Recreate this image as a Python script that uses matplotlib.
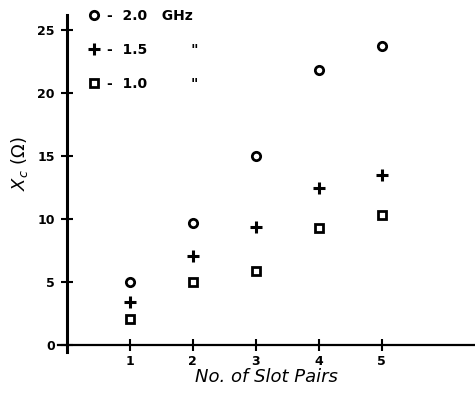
import matplotlib.pyplot as plt

# number of slot pairs
slot_pairs = [1, 2, 3, 4, 5]

# reactance, one list per frequency
x_2_0ghz = [5.0, 9.7, 15.0, 21.8, 23.7]
x_1_5ghz = [3.4, 7.1, 9.4, 12.5, 13.5]
x_1_0ghz = [2.1, 5.0, 5.9, 9.3, 10.3]

y_ticks = [0, 5, 10, 15, 20, 25]

fig = plt.figure(figsize=(4.75, 3.95), dpi=100)
ax = fig.add_axes([0.122, 0.109, 0.878, 0.853])

ax.plot(slot_pairs, x_2_0ghz, 'o', ms=6, mfc='white', mec='black', mew=2,
        label='-  2.0   GHz')
ax.plot(slot_pairs, x_1_5ghz, '+', ms=9, mec='black', mew=2.2,
        label='-  1.5         "')
ax.plot(slot_pairs, x_1_0ghz, 's', ms=5.5, mfc='white', mec='black', mew=2,
        label='-  1.0         "')

ax.set_xlim(-0.14, 6.48)
ax.set_ylim(-0.55, 26.2)

# axes drawn through the origin, like the hand-drawn original
for side in ['top', 'right']:
    ax.spines[side].set_visible(False)
ax.spines['left'].set_position(('data', 0))
ax.spines['bottom'].set_position(('data', 0))
ax.spines['left'].set_linewidth(2.2)
ax.spines['bottom'].set_linewidth(1.6)
ax.spines['left'].set_bounds(-0.55, 26.2)
ax.spines['bottom'].set_bounds(-0.14, 6.48)

ax.set_xticks(slot_pairs)
ax.set_yticks(y_ticks)
ax.tick_params(direction='inout', length=9, width=1.5, labelsize=9)
for lab in ax.get_xticklabels() + ax.get_yticklabels():
    lab.set_fontweight('bold')
ax.tick_params(axis='x', pad=3)
ax.tick_params(axis='y', pad=4)

ax.set_xlabel('No. of Slot Pairs', fontsize=13, style='italic', labelpad=0)
ax.set_ylabel(r'$X_c$ ($\Omega$)', fontsize=13)
ax.yaxis.set_label_coords(-0.066, 0.56)

ax.legend(loc='upper left', bbox_to_anchor=(0.04, 1.055), frameon=False,
          labelspacing=1.45, handlelength=1.0, handletextpad=0.4,
          prop={'weight': 'bold', 'size': 10})

fig.savefig('out.png', dpi=100)
